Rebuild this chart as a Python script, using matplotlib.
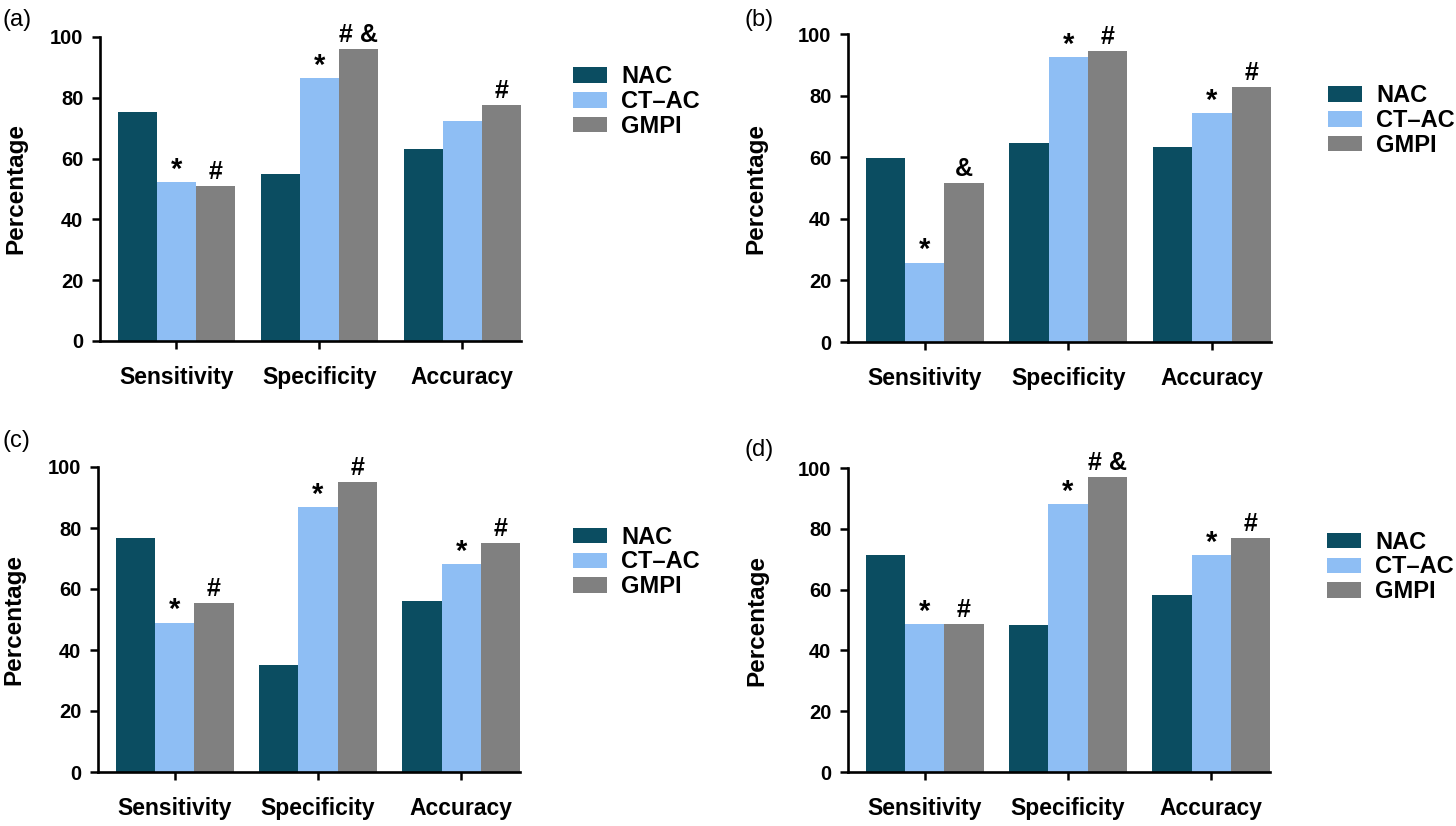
import matplotlib
matplotlib.use("Agg")
import matplotlib.pyplot as plt
import numpy as np
from matplotlib.patches import Patch
from matplotlib.transforms import offset_copy

plt.rcParams['font.family'] = ['Liberation Sans', 'DejaVu Sans']

categories = ["Sensitivity", "Specificity", "Accuracy"]
series_names = ["NAC", "CT\u2013AC", "GMPI"]
colors = ["#0B4D61", "#8EBEF4", "#808080"]
panel_labels = ["(a)", "(b)", "(c)", "(d)"]

# values per panel: [NAC, CT-AC, GMPI] x [Sensitivity, Specificity, Accuracy]
a_nac = [75.3, 54.8, 63.2]
a_ctac = [52.4, 86.6, 72.5]
a_gmpi = [51.0, 96.0, 77.7]

b_nac = [59.7, 64.6, 63.4]
b_ctac = [25.8, 92.6, 74.4]
b_gmpi = [51.7, 94.4, 82.7]

c_nac = [76.7, 35.2, 56.0]
c_ctac = [49.0, 86.9, 68.1]
c_gmpi = [55.3, 95.0, 75.2]

d_nac = [71.3, 48.4, 58.2]
d_ctac = [48.7, 88.2, 71.4]
d_gmpi = [48.7, 97.0, 77.0]

# significance marks: (CT-AC marks, GMPI marks) per category
a_ctac_marks = ["*", "*", ""]
a_gmpi_marks = ["#", "# &", "#"]
b_ctac_marks = ["*", "*", "*"]
b_gmpi_marks = ["&", "#", "#"]
c_ctac_marks = ["*", "*", "*"]
c_gmpi_marks = ["#", "#", "#"]
d_ctac_marks = ["*", "*", "*"]
d_gmpi_marks = ["#", "# &", "#"]

yticks = [0, 20, 40, 60, 80, 100]

panels = [
    (a_nac, a_ctac, a_gmpi, a_ctac_marks, a_gmpi_marks),
    (b_nac, b_ctac, b_gmpi, b_ctac_marks, b_gmpi_marks),
    (c_nac, c_ctac, c_gmpi, c_ctac_marks, c_gmpi_marks),
    (d_nac, d_ctac, d_gmpi, d_ctac_marks, d_gmpi_marks),
]

W, H = 1456, 826
fig = plt.figure(figsize=(W / 100, H / 100), dpi=100)

# axes boxes in pixels: left, top, right, bottom
boxes = [
    (100, 37, 521, 341),
    (848, 34, 1271, 342),
    (98, 467, 520, 772),
    (848, 468, 1270, 772),
]
legend_pos = [(573, 101.7), (1328, 120.7), (573, 562), (1327, 567)]
label_pos = [(3, 20), (745, 20), (3, 441), (745, 450)]
ylabel_off = [84, 92, 84, 91]

bw = 0.274
x = np.arange(len(categories))

for i, (nac, ctac, gmpi, cm, gm) in enumerate(panels):
    l, t, r, b = boxes[i]
    ax = fig.add_axes([l / W, 1 - b / H, (r - l) / W, (b - t) / H])
    vals = [nac, ctac, gmpi]
    for j in range(3):
        ax.bar(x + (j - 1) * bw, vals[j], width=bw, color=colors[j],
               edgecolor='none', zorder=2)
    ax.set_xlim(-0.535, 2 + 1.5 * bw)
    ax.set_ylim(0, 100)
    ax.set_yticks(yticks)
    ax.set_yticklabels([str(v) for v in yticks], fontsize=14.5, fontweight='bold')
    ax.set_xticks(x)
    ax.set_xticklabels(categories, fontsize=16.5, fontweight='bold')
    ax.tick_params(axis='y', direction='out', length=6, width=1.8, pad=6)
    ax.tick_params(axis='x', direction='out', length=6, width=1.8, pad=12)
    for s in ['top', 'right']:
        ax.spines[s].set_visible(False)
    for s in ['left', 'bottom']:
        ax.spines[s].set_linewidth(1.9)
    ax.set_ylabel("Percentage", fontsize=17.5, fontweight='bold', va='center')
    ax.yaxis.set_label_coords(-ylabel_off[i] / (r - l), 0.5)

    trans = offset_copy(ax.transData, fig=fig, x=0, y=5, units='points')
    trans_star = offset_copy(ax.transData, fig=fig, x=0, y=3, units='points')
    for k in range(3):
        if cm[k]:
            ax.text(x[k], ctac[k], cm[k], transform=trans_star, ha='center',
                    va='baseline', fontsize=21, fontweight='bold')
        if gm[k]:
            ax.text(x[k] + bw, gmpi[k], gm[k], transform=trans, ha='center',
                    va='baseline', fontsize=18, fontweight='bold')

    handles = [Patch(facecolor=c, edgecolor='none') for c in colors]
    lx, ly = legend_pos[i]
    fig.legend(handles, series_names, loc='center left',
               bbox_to_anchor=(lx / W, 1 - ly / H), bbox_transform=fig.transFigure,
               frameon=False, borderpad=0, borderaxespad=0,
               handlelength=1.45, handleheight=0.62, handletextpad=0.6,
               labelspacing=0.08, prop={'size': 17, 'weight': 'bold'})

    px, py = label_pos[i]
    fig.text(px / W, 1 - py / H, panel_labels[i], fontsize=17,
             ha='left', va='center')

fig.savefig("out.png", dpi=100)
